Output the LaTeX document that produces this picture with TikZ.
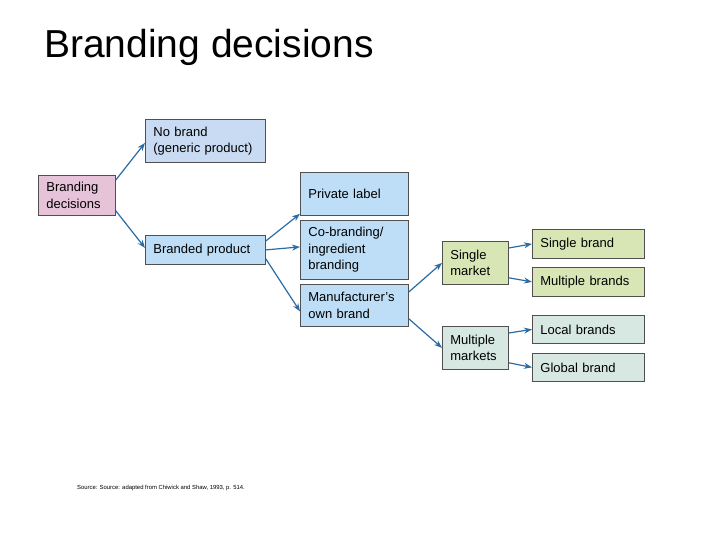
\documentclass[tikz,border=0pt]{standalone}
\usepackage{fontspec}
\setmainfont{Liberation Sans}
\usetikzlibrary{arrows.meta}
\definecolor{pinkb}{HTML}{E6C3D9}
\definecolor{blueA}{HTML}{C9DBF2}
\definecolor{blueB}{HTML}{BDDEF6}
\definecolor{greenb}{HTML}{D8E6B5}
\definecolor{tealb}{HTML}{D7E7E1}
\definecolor{arr}{HTML}{2C6CA3}
\definecolor{edge}{HTML}{505050}
\begin{document}
\begin{tikzpicture}[x=1pt,y=-1pt,
  bx/.style={draw=edge,line width=0.8pt,anchor=north west,align=left,inner sep=0pt,
    font=\fontsize{13}{16.5}\selectfont},
  conn/.style={draw=arr,line width=1.2pt,-{Stealth[length=8pt,width=6pt]}}]
\useasboundingbox[fill=white] (0,0) rectangle (720,540);
\node[anchor=base west,inner sep=0pt,font=\fontsize{39}{44}\selectfont] (title) at (44,58) {Branding decisions};
\newcommand\mybox[7]{%
  \node[bx,fill=#6,minimum width=#4pt,minimum height=#5pt,text width=#4pt-16pt] (#1) at (#2,#3) {#7};}
\mybox{bd}{38}{175}{77}{40}{pinkb}{Branding\\decisions}
\mybox{nb}{145}{119}{120}{43}{blueA}{No brand\\(generic product)}
\mybox{bp}{145}{235}{120}{29}{blueB}{Branded product}
\mybox{pl}{300}{172}{108}{43}{blueB}{Private label}
\mybox{cb}{300}{220}{108}{59}{blueB}{Co-branding/\\ingredient\\branding}
\mybox{mo}{300}{284}{108}{42}{blueB}{Manufacturer's\\own brand}
\mybox{sm}{442}{241}{66}{43}{greenb}{Single\\market}
\mybox{mm}{442}{326}{66}{43}{tealb}{Multiple\\markets}
\mybox{sb}{532}{229}{112}{29}{greenb}{Single brand}
\mybox{mb}{532}{267}{112}{29}{greenb}{Multiple brands}
\mybox{lb}{532}{315}{112}{28}{tealb}{Local brands}
\mybox{gb}{532}{353}{112}{28}{tealb}{Global brand}
\draw[conn] ([yshift=-5pt]bd.north east) -- ([yshift=-2pt]nb.west);
\draw[conn] ([yshift=5pt]bd.south east) -- ([yshift=2pt]bp.west);
\draw[conn] ([yshift=-6pt]bp.north east) -- ([yshift=2pt]pl.south west);
\draw[conn] (bp.east) -- ([yshift=3pt]cb.west);
\draw[conn] ([yshift=6pt]bp.south east) -- ([yshift=-6pt]mo.west);
\draw[conn] ([yshift=-8pt]mo.north east) -- (sm.west);
\draw[conn] ([yshift=8pt]mo.south east) -- (mm.west);
\draw[conn] ([yshift=-7pt]sm.north east) -- (sb.west);
\draw[conn] ([yshift=7pt]sm.south east) -- (mb.west);
\draw[conn] ([yshift=-7pt]mm.north east) -- (lb.west);
\draw[conn] ([yshift=7pt]mm.south east) -- (gb.west);
\node[anchor=west,inner sep=0pt,font=\fontsize{5.9}{7}\selectfont] (src) at (77,488) {Source: Source: adapted from Chiwick and Shaw, 1993, p. 514.};
\end{tikzpicture}
\end{document}
